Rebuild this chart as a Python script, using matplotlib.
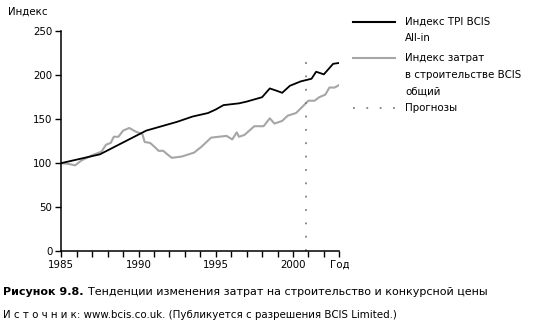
"""Рисунок 9.8: индексы TPI BCIS и затрат в строительстве."""

import matplotlib

matplotlib.use("Agg")
import matplotlib.pyplot as plt
from matplotlib.lines import Line2D

plt.rcParams["font.family"] = ["DejaVu Sans"]

# Индекс TPI BCIS All-in (чёрная линия)
tpi_years = [1985.0, 1986.0, 1987.0, 1987.5, 1988.5, 1989.5, 1990.5, 1991.5,
             1992.5, 1993.5, 1994.5, 1995.0, 1995.5, 1996.5, 1997.0, 1998.0,
             1998.5, 1999.0, 1999.3, 1999.8, 2000.5, 2001.2, 2001.5, 2002.0,
             2002.6, 2003.0]
tpi_values = [100, 104, 108, 110, 119, 128, 137, 142, 147, 153, 157, 161, 166,
              168, 170, 175, 185, 182, 180, 188, 193, 196, 204, 201, 213, 214]

# Индекс затрат в строительстве BCIS общий (серая линия)
cost_years = [1985.0, 1985.5, 1985.9, 1986.3, 1987.0, 1987.6, 1987.9, 1988.2,
              1988.4, 1988.7, 1989.0, 1989.4, 1989.8, 1990.25, 1990.4, 1990.75,
              1991.07, 1991.3, 1991.6, 1991.8, 1992.15, 1992.8, 1993.6, 1994.1,
              1994.7, 1995.7, 1996.07, 1996.36, 1996.5, 1996.85, 1997.5, 1998.1,
              1998.5, 1998.8, 1999.3, 1999.66, 2000.2, 2001.0, 2001.4, 2001.7,
              2002.1, 2002.36, 2002.7, 2003.0]
cost_values = [100, 99, 97.5, 103, 109, 113, 121, 123, 130, 130, 137, 140, 136,
               133, 124, 123, 118, 114, 114, 111, 106, 107.5, 112, 119, 129,
               131, 127, 135, 130, 132, 142, 142, 151, 145, 148, 154, 157, 171,
               171, 175, 178, 186, 186, 189]

forecast_start = 2000.85
forecast_top = 220

x_ticks = list(range(1985, 2004))
x_labels = {1985: "1985", 1990: "1990", 1995: "1995", 2000: "2000", 2003: "Год"}
y_ticks = [0, 50, 100, 150, 200, 250]

GRAY = "#a6a6a6"
DOTS = (0, (1, 6.4))

fig = plt.figure(figsize=(5.44, 3.30), dpi=100)
ax = fig.add_axes([61.3 / 544, 79 / 330, 278 / 544, 219.7 / 330])

ax.plot(cost_years, cost_values, color=GRAY, lw=1.5)
ax.plot(tpi_years, tpi_values, color="black", lw=1.3)
ax.plot([forecast_start, forecast_start], [0, forecast_top], color="#808080",
        lw=1.3, linestyle=DOTS)

ax.set_xlim(1985, 2003)
ax.set_ylim(0, 250)
ax.set_xticks(x_ticks)
ax.set_xticklabels([x_labels.get(y, "") for y in x_ticks])
ax.set_yticks(y_ticks)
ax.tick_params(direction="out", length=4, width=1, labelsize=7.4, pad=2.5)
ax.spines[["top", "right"]].set_visible(False)
for s in ("left", "bottom"):
    ax.spines[s].set_linewidth(1.1)

fig.text(8 / 544, 1 - 12 / 330, "Индекс", fontsize=7.4, va="center", ha="left")

# легенда вручную
legend_items = [
    (21.7, dict(color="black", lw=1.5), ["Индекс TPI BCIS", "All-in"]),
    (58.3, dict(color=GRAY, lw=1.5), ["Индекс затрат", "в строительстве BCIS", "общий"]),
    (108.3, dict(color="#808080", lw=1.3, linestyle=DOTS), ["Прогнозы"]),
]
for y, style, lines in legend_items:
    fy = 1 - y / 330
    fig.add_artist(Line2D([353 / 544, 395 / 544], [fy, fy], **style))
    for i, line in enumerate(lines):
        fig.text(405 / 544, 1 - (y + i * 16.5) / 330, line, fontsize=7.4,
                 va="center", ha="left")

# подпись: жирная часть, затем обычный текст сразу за ней
renderer = fig.canvas.get_renderer()
bold = fig.text(3 / 544, 1 - 292 / 330, "Рисунок 9.8.", fontsize=8.0,
                fontweight="bold", va="center", ha="left")
bb = bold.get_window_extent(renderer)
fig.text((bb.x1 + 4) / 544, 1 - 292 / 330,
         "Тенденции изменения затрат на строительство и конкурсной цены",
         fontsize=8.0, va="center", ha="left")
fig.text(3 / 544, 1 - 315 / 330,
         "И с т о ч н и к: www.bcis.co.uk. (Публикуется с разрешения BCIS Limited.)",
         fontsize=7.4, va="center", ha="left")

fig.savefig("out.png", dpi=100)
